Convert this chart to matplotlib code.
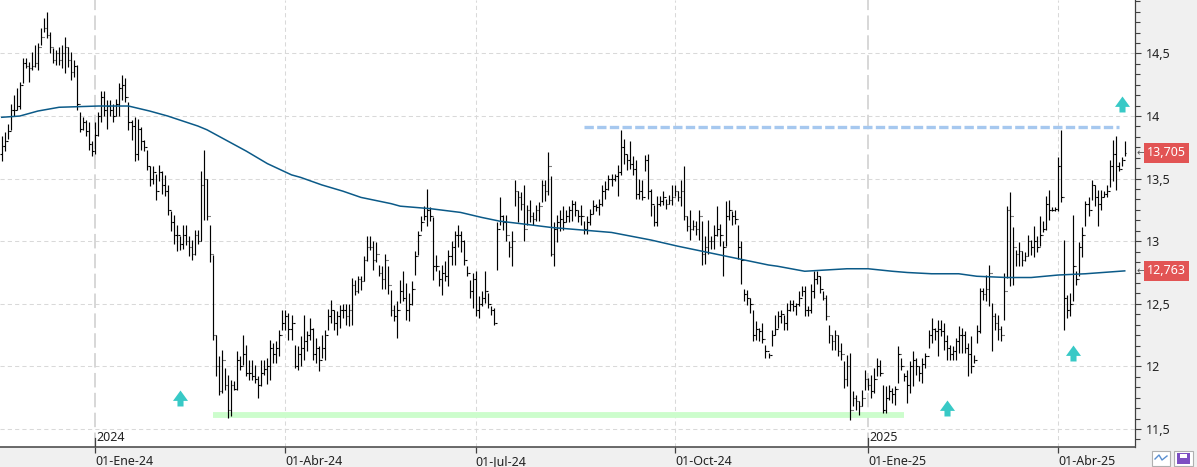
import numpy as np
import pandas as pd
import matplotlib
matplotlib.use("Agg")
import matplotlib.pyplot as plt
import matplotlib.transforms as mtransforms
from matplotlib.path import Path
from matplotlib.patches import Rectangle
from matplotlib.ticker import FixedLocator, MultipleLocator, FuncFormatter

plt.rcParams['font.family'] = ['Noto Sans', 'DejaVu Sans']

# daily bars (Nov-2023 .. May-2025)
highs = [
    13.84, 13.87, 13.94, 14.10, 14.17, 14.22, 14.27, 14.46, 14.46, 14.43,
    14.51, 14.57, 14.58, 14.70, 14.78, 14.83, 14.67, 14.54, 14.53, 14.55,
    14.57, 14.63, 14.55, 14.51, 14.45, 14.41, 14.03, 13.99, 13.97, 13.95,
    13.80, 13.95, 14.03, 14.20, 14.20, 14.13, 14.13, 14.10, 14.14, 14.26,
    14.33, 14.30, 14.11, 13.97, 13.99, 13.98, 13.91, 13.81, 13.73, 13.60,
    13.60, 13.54, 13.61, 13.56, 13.53, 13.45, 13.24, 13.21, 13.13, 13.04,
    13.13, 13.13, 13.04, 13.01, 13.09, 13.09,
    13.56, 13.73, 13.50, 13.13, 12.89, 12.25, 12.08, 12.13, 11.99, 11.93,
    11.89, 11.88, 12.12, 12.08, 12.25, 12.17, 12.05, 12.05, 12.01, 11.92,
    12.05, 12.05, 12.07, 12.21, 12.19, 12.20, 12.29, 12.45, 12.45, 12.43,
    12.41, 12.17, 12.16, 12.24, 12.41, 12.28, 12.39, 12.31, 12.23, 12.16,
    12.25, 12.29, 12.46, 12.53, 12.45, 12.44, 12.49, 12.50, 12.50, 12.50,
    12.71, 12.69, 12.72, 12.72, 12.88, 13.04, 13.04, 13.00, 12.99, 12.81,
    12.80, 12.90, 12.80,
    12.61, 12.49, 12.52, 12.69, 12.76, 12.67, 12.59, 12.68, 12.92, 13.08,
    13.20, 13.28, 13.42, 13.27, 13.19, 12.89, 12.77, 12.81, 12.84, 12.93,
    13.00, 13.08, 13.13, 13.08, 13.01, 12.80, 12.69, 12.75, 12.76, 12.56,
    12.60, 12.76, 12.59, 12.48, 12.47,
    13.15, 13.35, 13.21, 13.21, 13.00, 13.08, 13.49, 13.40, 13.39, 13.45,
    13.29, 13.33, 13.23, 13.29, 13.31, 13.49, 13.49, 13.71, 13.52, 13.15,
    13.21, 13.25, 13.28, 13.25, 13.28, 13.33, 13.32, 13.25,
    13.29, 13.16, 13.20, 13.26, 13.33, 13.30, 13.34, 13.45, 13.48, 13.53,
    13.54, 13.54, 13.61, 13.89, 13.82, 13.70, 13.80, 13.68, 13.65, 13.50,
    13.49, 13.69, 13.70, 13.42, 13.29, 13.36, 13.36, 13.40, 13.34, 13.37,
    13.45, 13.45, 13.40, 13.49, 13.60, 13.20, 13.25, 13.17, 13.16, 13.25,
    13.16, 13.04, 13.17, 13.04, 13.13, 13.28, 13.14, 13.00, 13.32, 13.33,
    13.24, 13.25, 13.13, 13.00, 12.62, 12.61, 12.55, 12.45, 12.36, 12.31,
    12.35, 12.17, 12.11,
    12.29, 12.41, 12.44, 12.45, 12.41, 12.51, 12.53, 12.53, 12.51, 12.60,
    12.64, 12.64, 12.48, 12.66, 12.76, 12.76, 12.72, 12.60, 12.57, 12.33,
    12.25, 12.29, 12.25, 12.19, 12.04, 12.09, 12.11, 11.80, 11.77, 11.72,
    11.81, 11.97, 11.91, 11.93, 11.99, 12.07, 12.05, 11.85, 11.84, 11.85,
    11.83, 11.84, 12.16, 12.07, 11.95, 11.97, 12.04, 12.12, 12.07, 12.00,
    12.07, 12.11, 12.29, 12.39, 12.31, 12.37, 12.37, 12.35, 12.25, 12.17,
    12.16, 12.23, 12.32,
    12.31, 12.28, 12.19, 12.24, 12.09, 12.33, 12.63, 12.63, 12.73, 12.81,
    12.51, 12.43, 12.41, 12.32, 12.75, 13.28, 13.39, 13.11, 12.93, 12.99,
    12.92, 12.91, 13.05, 13.01, 13.12, 13.04, 13.20, 13.16, 13.36, 13.41,
    13.27, 13.27, 13.67, 13.89, 13.01, 12.57, 12.59, 13.21, 12.76, 12.99,
    13.11, 13.32, 13.35, 13.49, 13.45, 13.41, 13.41, 13.40, 13.45, 13.65,
    13.81, 13.84, 13.63, 13.67, 13.80,
]
lows = [
    13.64, 13.72, 13.82, 13.89, 14.00, 14.05, 14.06, 14.26, 14.38, 14.27,
    14.37, 14.39, 14.37, 14.57, 14.67, 14.62, 14.50, 14.42, 14.41, 14.41,
    14.38, 14.34, 14.39, 14.29, 14.31, 14.05, 13.87, 13.89, 13.84, 13.73,
    13.68, 13.70, 13.84, 13.95, 14.00, 13.90, 14.00, 13.95, 14.00, 14.00,
    14.13, 14.11, 13.89, 13.81, 13.64, 13.65, 13.73, 13.72, 13.57, 13.44,
    13.46, 13.33, 13.48, 13.38, 13.36, 13.21, 13.08, 12.98, 12.92, 12.93,
    12.94, 12.97, 12.88, 12.85, 12.89, 12.98,
    13.00, 13.17, 13.17, 12.83, 12.21, 11.92, 11.77, 11.79, 11.81, 11.59,
    11.60, 11.81, 11.81, 11.97, 12.01, 11.92, 11.89, 11.89, 11.87, 11.75,
    11.84, 11.93, 11.86, 11.89, 12.03, 12.03, 12.08, 12.29, 12.29, 12.21,
    12.21, 11.99, 11.97, 12.00, 12.05, 12.12, 12.21, 12.05, 12.03, 11.96,
    12.07, 12.05, 12.29, 12.35, 12.29, 12.25, 12.31, 12.39, 12.33, 12.32,
    12.33, 12.57, 12.59, 12.61, 12.68, 12.84, 12.93, 12.77, 12.83, 12.72,
    12.62, 12.62, 12.58,
    12.40, 12.36, 12.23, 12.51, 12.52, 12.37, 12.36, 12.49, 12.73, 12.89,
    13.08, 13.17, 13.12, 13.16, 12.69, 12.76, 12.64, 12.57, 12.68, 12.64,
    12.81, 12.81, 12.95, 12.91, 12.81, 12.72, 12.55, 12.47, 12.40, 12.39,
    12.48, 12.51, 12.47, 12.41, 12.33,
    12.77, 13.13, 13.09, 13.00, 12.87, 12.80, 13.28, 13.15, 13.25, 13.00,
    13.13, 13.15, 13.13, 13.16, 13.16, 13.31, 13.32, 13.37, 12.88, 12.80,
    12.99, 13.08, 13.09, 13.15, 13.15, 13.16, 13.20, 13.15,
    13.13, 13.06, 13.06, 13.13, 13.22, 13.24, 13.21, 13.28, 13.34, 13.41,
    13.44, 13.48, 13.36, 13.53, 13.62, 13.57, 13.58, 13.53, 13.34, 13.34,
    13.33, 13.56, 13.34, 13.20, 13.12, 13.12, 13.28, 13.29, 13.26, 13.30,
    13.29, 13.36, 13.32, 13.28, 13.17, 13.08, 13.01, 13.09, 13.05, 13.01,
    12.81, 12.82, 12.90, 12.94, 12.94, 13.04, 12.96, 12.72, 12.96, 13.17,
    13.13, 13.14, 12.86, 12.66, 12.52, 12.49, 12.43, 12.20, 12.21, 12.20,
    12.19, 12.07, 12.07,
    12.16, 12.25, 12.31, 12.35, 12.29, 12.29, 12.44, 12.44, 12.41, 12.48,
    12.56, 12.40, 12.40, 12.43, 12.55, 12.66, 12.59, 12.53, 12.37, 12.19,
    12.13, 12.13, 12.08, 12.05, 11.83, 11.84, 11.57, 11.68, 11.65, 11.61,
    11.68, 11.81, 11.81, 11.75, 11.79, 11.92, 11.92, 11.63, 11.63, 11.73,
    11.71, 11.69, 11.87, 11.97, 11.88, 11.71, 11.79, 11.84, 11.93, 11.88,
    11.87, 11.99, 12.15, 12.19, 12.21, 12.08, 12.24, 12.13, 12.05, 12.05,
    12.05, 12.05, 12.11,
    12.11, 12.11, 11.92, 11.95, 12.03, 12.19, 12.27, 12.53, 12.52, 12.48,
    12.12, 12.29, 12.21, 12.20, 12.37, 12.71, 12.64, 12.65, 12.80, 12.80,
    12.80, 12.84, 12.88, 12.89, 12.87, 12.91, 12.96, 13.07, 13.09, 13.17,
    13.24, 13.24, 13.24, 13.31, 12.29, 12.39, 12.40, 12.52, 12.65, 12.72,
    12.87, 13.12, 13.20, 13.33, 13.28, 13.12, 13.25, 13.35, 13.35, 13.43,
    13.48, 13.41, 13.56, 13.60, 13.68,
]
closes = [
    13.76, 13.80, 13.88, 14.05, 14.05, 14.08, 14.25, 14.42, 14.40, 14.38,
    14.40, 14.42, 14.55, 14.63, 14.70, 14.65, 14.55, 14.45, 14.50, 14.45,
    14.50, 14.55, 14.45, 14.35, 14.40, 14.10, 13.90, 13.95, 13.88, 13.78,
    13.72, 13.85, 14.00, 14.15, 14.05, 14.08, 14.05, 14.00, 14.10, 14.22,
    14.25, 14.15, 13.95, 13.92, 13.70, 13.90, 13.80, 13.75, 13.60, 13.50,
    13.55, 13.40, 13.55, 13.45, 13.40, 13.25, 13.15, 13.05, 13.05, 12.98,
    13.05, 13.00, 12.95, 12.90, 13.05, 13.00,
    13.45, 13.50, 13.20, 12.90, 12.25, 12.00, 11.80, 12.05, 11.85, 11.65,
    11.85, 11.82, 12.05, 12.00, 12.10, 11.95, 11.95, 11.92, 11.90, 11.85,
    11.95, 11.98, 12.00, 12.15, 12.10, 12.15, 12.25, 12.35, 12.40, 12.30,
    12.35, 12.00, 12.10, 12.15, 12.20, 12.25, 12.30, 12.10, 12.15, 12.05,
    12.15, 12.25, 12.40, 12.45, 12.35, 12.40, 12.45, 12.45, 12.40, 12.45,
    12.65, 12.60, 12.70, 12.68, 12.85, 12.95, 12.95, 12.85, 12.90, 12.75,
    12.70, 12.85, 12.65,
    12.45, 12.40, 12.45, 12.60, 12.55, 12.45, 12.50, 12.62, 12.88, 13.05,
    13.15, 13.20, 13.25, 13.20, 12.80, 12.80, 12.70, 12.75, 12.72, 12.88,
    12.95, 13.05, 13.05, 13.00, 12.85, 12.75, 12.60, 12.70, 12.45, 12.50,
    12.55, 12.60, 12.50, 12.45, 12.35,
    13.10, 13.20, 13.15, 13.05, 12.95, 13.00, 13.40, 13.35, 13.30, 13.10,
    13.25, 13.20, 13.18, 13.25, 13.28, 13.45, 13.40, 13.60, 12.90, 13.10,
    13.15, 13.18, 13.15, 13.20, 13.25, 13.30, 13.25, 13.20,
    13.20, 13.10, 13.15, 13.22, 13.28, 13.27, 13.30, 13.40, 13.42, 13.50,
    13.50, 13.52, 13.55, 13.75, 13.70, 13.65, 13.62, 13.58, 13.38, 13.40,
    13.35, 13.65, 13.40, 13.30, 13.15, 13.30, 13.32, 13.35, 13.30, 13.33,
    13.35, 13.40, 13.35, 13.40, 13.20, 13.12, 13.10, 13.12, 13.10, 13.20,
    12.90, 12.95, 13.00, 13.00, 13.05, 13.10, 13.05, 12.95, 13.20, 13.25,
    13.20, 13.18, 12.95, 12.85, 12.58, 12.55, 12.50, 12.25, 12.30, 12.28,
    12.22, 12.12, 12.09,
    12.25, 12.30, 12.40, 12.42, 12.35, 12.45, 12.50, 12.48, 12.50, 12.55,
    12.60, 12.45, 12.45, 12.60, 12.70, 12.72, 12.62, 12.55, 12.40, 12.25,
    12.20, 12.25, 12.12, 12.10, 11.90, 12.00, 11.65, 11.75, 11.72, 11.68,
    11.75, 11.90, 11.85, 11.80, 11.90, 12.00, 11.95, 11.65, 11.75, 11.80,
    11.78, 11.82, 12.10, 12.00, 11.92, 11.85, 12.00, 12.05, 12.00, 11.95,
    12.02, 12.08, 12.25, 12.30, 12.28, 12.30, 12.28, 12.20, 12.15, 12.10,
    12.12, 12.20, 12.25,
    12.25, 12.15, 12.10, 12.00, 12.05, 12.28, 12.60, 12.58, 12.62, 12.75,
    12.40, 12.35, 12.30, 12.25, 12.60, 13.25, 13.20, 12.95, 12.90, 12.92,
    12.85, 12.88, 13.00, 12.95, 13.00, 12.95, 13.05, 13.10, 13.30, 13.25,
    13.25, 13.26, 13.60, 13.35, 12.55, 12.45, 12.50, 12.80, 12.70, 12.95,
    13.05, 13.30, 13.25, 13.45, 13.35, 13.30, 13.35, 13.38, 13.40, 13.60,
    13.70, 13.60, 13.58, 13.65, 13.705,
]
first_open = 13.70

# market holidays (no bar on these days)
holidays = ['2023-12-25', '2023-12-26', '2024-01-01', '2024-03-29', '2024-04-01',
            '2024-05-01', '2024-12-25', '2024-12-26', '2025-01-01', '2025-04-18',
            '2025-04-21', '2025-05-01']

# moving average, read at a set of dates
ma_dates = ['2023-11-15', '2023-11-23', '2023-12-01', '2023-12-12', '2024-01-03',
            '2024-01-17', '2024-01-26', '2024-02-05', '2024-02-19', '2024-02-22',
            '2024-03-12', '2024-03-21', '2024-04-04', '2024-04-09', '2024-04-18',
            '2024-04-29', '2024-05-08', '2024-05-22', '2024-05-27', '2024-06-10',
            '2024-06-24', '2024-07-03', '2024-07-11', '2024-07-22', '2024-08-05',
            '2024-08-19', '2024-09-02', '2024-09-19', '2024-10-02', '2024-10-16',
            '2024-10-30', '2024-11-13', '2024-11-18', '2024-11-29', '2024-12-10',
            '2024-12-19', '2025-01-02', '2025-01-14', '2025-01-21', '2025-01-31',
            '2025-02-13', '2025-02-21', '2025-03-07', '2025-03-19', '2025-04-01',
            '2025-04-14', '2025-05-06']
ma_values = [13.99, 14.00, 14.04, 14.07, 14.08, 14.08, 14.04, 14.00, 13.92, 13.89,
             13.72, 13.62, 13.53, 13.51, 13.45, 13.40, 13.35, 13.30, 13.28, 13.26,
             13.23, 13.19, 13.16, 13.14, 13.11, 13.09, 13.07, 13.01, 12.96, 12.91,
             12.86, 12.81, 12.80, 12.76, 12.77, 12.78, 12.78, 12.76, 12.75, 12.74,
             12.74, 12.72, 12.71, 12.71, 12.73, 12.74, 12.763]

# support / resistance lines
support_level = 11.61
support_span = ['2024-02-26', '2025-01-20']
resist_level = 13.91
resist_span = ['2024-08-20', '2025-05-02']

# signal arrows
arrow_dates = ['2024-02-09', '2025-02-07', '2025-04-08', '2025-05-05']
arrow_levels = [11.75, 11.67, 12.11, 14.10]

tick_dates = ['2024-01-01', '2024-04-01', '2024-07-01', '2024-10-01', '2025-01-01', '2025-04-01']
tick_labels = ['01-Ene-24', '01-Abr-24', '01-Jul-24', '01-Oct-24', '01-Ene-25', '01-Abr-25']
year_dates = ['2024-01-01', '2025-01-01']
year_labels = ['2024', '2025']

dates = pd.bdate_range('2023-11-15', periods=len(closes), freq='C', holidays=holidays)
x = np.arange(len(closes))


def pos(d):
    return int(dates.searchsorted(pd.Timestamp(d)))


highs = np.array(highs)
lows = np.array(lows)
closes = np.array(closes)
opens = np.r_[first_open, closes[:-1]]

fig = plt.figure(figsize=(11.97, 4.67), dpi=100, facecolor='#f0f0f0')
ax = fig.add_axes([0, 20 / 467, 1135 / 1197, 447 / 467])
ax.set_facecolor('white')
ax.set_xlim(-0.56, 375.4)
ax.set_ylim(11.356, 14.927)

# grid
for v in np.arange(11.5, 14.51, 0.5):
    ax.axhline(v, color='#d9d9d9', lw=0.75, ls=(0, (4, 3)), zorder=0)
for d in tick_dates:
    if d in year_dates:
        ax.axvline(pos(d), color='#d4d4d4', lw=1.3, ls=(0, (8, 3)), zorder=0)
    else:
        ax.axvline(pos(d), color='#d9d9d9', lw=0.75, ls=(0, (4, 3)), zorder=0)

# support band and resistance dashed line
ax.hlines(support_level, pos(support_span[0]), pos(support_span[1]),
          color='#ccfdcc', lw=4.2, zorder=1)
ax.hlines(resist_level, pos(resist_span[0]), pos(resist_span[1]),
          color='#a6c8ef', lw=2.4, linestyles=(0, (2.8, 1.0)), zorder=1)

# OHLC bars
ax.vlines(x, lows, highs, color='black', lw=0.85, zorder=3)
ax.hlines(opens, x - 0.45, x, color='black', lw=0.8, zorder=3)
ax.hlines(closes, x, x + 0.45, color='black', lw=0.8, zorder=3)

# moving average
ax.plot([pos(d) for d in ma_dates], ma_values, color='#0b5a88', lw=1.1, zorder=4)

# arrows
arrow_path = Path([(-0.94, -0.3), (0, 1), (0.94, -0.3), (0.38, -0.3), (0.38, -1),
                   (-0.38, -1), (-0.38, -0.3), (-0.94, -0.3)],
                  [Path.MOVETO] + [Path.LINETO] * 6 + [Path.CLOSEPOLY])
ax.plot([pos(d) for d in arrow_dates], arrow_levels, ls='none', marker=arrow_path,
        ms=11.5, color='#38c9c6', mec='none', zorder=5, clip_on=False)

# axes styling
for s in ['top', 'left']:
    ax.spines[s].set_visible(False)
ax.spines['bottom'].set_color('#505050')
ax.spines['bottom'].set_linewidth(1.2)
ax.spines['right'].set_color('#404040')
ax.spines['right'].set_linewidth(0.9)

ax.yaxis.tick_right()
ax.yaxis.set_major_locator(FixedLocator(np.arange(11.5, 14.51, 0.5)))
ax.yaxis.set_minor_locator(MultipleLocator(0.5 / 6))
ax.yaxis.set_major_formatter(FuncFormatter(lambda v, _: f"{v:g}".replace('.', ',')))
ax.tick_params(axis='y', which='major', length=4.5, width=0.8, color='#404040',
               pad=3.5, labelsize=9, labelcolor='#222222')
ax.tick_params(axis='y', which='minor', length=3.5, width=0.8, color='#404040')

ax.set_xticks([pos(d) for d in tick_dates])
ax.set_xticklabels(tick_labels, ha='left')
ax.tick_params(axis='x', length=4.5, width=0.9, color='#404040', pad=1.5,
               labelsize=9, labelcolor='#222222')

# year markers above the axis line
bt = mtransforms.blended_transform_factory(ax.transData, ax.transAxes)
for d, lab in zip(year_dates, year_labels):
    p = pos(d)
    ax.plot([p, p], [0, 0.021], color='#404040', lw=0.9, transform=bt, zorder=6)
    ax.text(p + 0.5, 0.022, lab, transform=bt, ha='left', va='center',
            fontsize=9, color='#222222')

# last value tags
rt = mtransforms.blended_transform_factory(ax.transAxes, ax.transData)
for val in [closes[-1], ma_values[-1]]:
    ax.text(1.0012, val, '\u2190', transform=rt, ha='left', va='center',
            fontsize=7, color='#555555', family=['DejaVu Sans'], clip_on=False)
    ax.text(1.0106, val, f"{val:.3f}".replace('.', ','), transform=rt, ha='left',
            va='center', fontsize=9, color='white', clip_on=False, zorder=7,
            bbox=dict(boxstyle='square,pad=0.25', fc='#e25454', ec='none'))

# small buttons bottom right
fig.add_artist(Rectangle((1152 / 1197, 1 / 467), 18 / 1197, 15 / 467,
                         transform=fig.transFigure, fc='white', ec='#b0b0b0', lw=0.8))
fig.add_artist(plt.Line2D([1155 / 1197, 1159 / 1197, 1162 / 1197, 1167 / 1197],
                          [8 / 467, 12 / 467, 7 / 467, 11 / 467],
                          transform=fig.transFigure, color='#5a8fd0', lw=1.0))
fig.add_artist(Rectangle((1174 / 1197, 1 / 467), 19 / 1197, 15 / 467,
                         transform=fig.transFigure, fc='white', ec='#b0b0b0', lw=0.8))
fig.add_artist(Rectangle((1177 / 1197, 3 / 467), 13 / 1197, 11 / 467,
                         transform=fig.transFigure, fc='#7d4fc2', ec='none'))
fig.add_artist(Rectangle((1180 / 1197, 9 / 467), 7 / 1197, 4 / 467,
                         transform=fig.transFigure, fc='white', ec='none'))

fig.savefig('out.png', dpi=100, facecolor=fig.get_facecolor())
